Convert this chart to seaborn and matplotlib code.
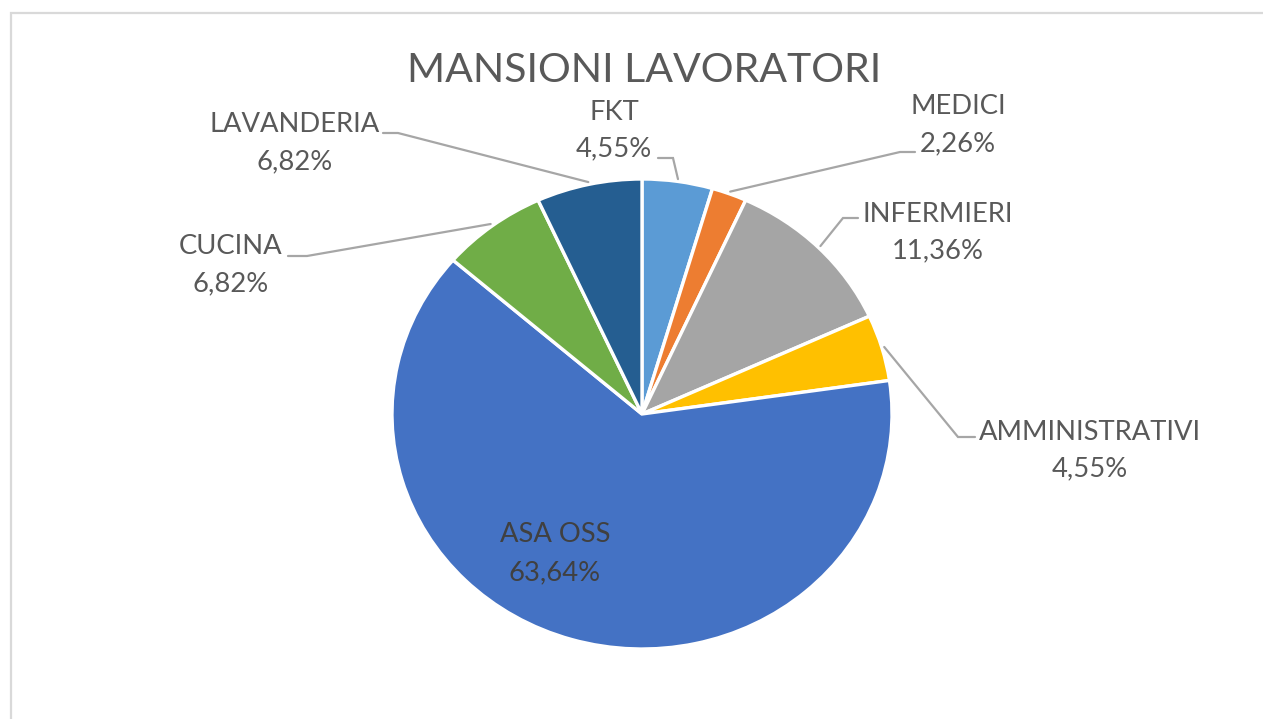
import numpy as np
import matplotlib
matplotlib.use("Agg")
import matplotlib.pyplot as plt
import seaborn as sns
from matplotlib.patches import Rectangle

# data
categories = ["FKT", "MEDICI", "INFERMIERI", "AMMINISTRATIVI", "ASA OSS", "CUCINA", "LAVANDERIA"]
shares = [4.55, 2.26, 11.36, 4.55, 63.64, 6.82, 6.82]
pct_labels = ["4,55%", "2,26%", "11,36%", "4,55%", "63,64%", "6,82%", "6,82%"]
colors = ["#5B9BD5", "#ED7D31", "#A5A5A5", "#FFC000", "#4472C4", "#70AD47", "#255E91"]

# layout (pixels, measured from top-left of the picture)
W, H = 1263, 719
CX, CY, RX, RY = 642, 414, 250, 235
label_xy = {
    "FKT": (614, 112, 149),
    "MEDICI": (958, 106, 144),
    "INFERMIERI": (938, 215, 251),
    "AMMINISTRATIVI": (1090, 433, 469),
    "ASA OSS": (555, 535, 573),
    "CUCINA": (231, 247, 284),
    "LAVANDERIA": (295, 125, 162),
}
# (text end, elbow) of each leader line
leader_xy = {
    "FKT": ((658, 158), (673, 158)),
    "MEDICI": ((915, 152), (900, 152)),
    "INFERMIERI": ((858, 218), (843, 218)),
    "AMMINISTRATIVI": ((975, 437), (958, 437)),
    "CUCINA": ((288, 256), (307, 256)),
    "LAVANDERIA": ((383, 133), (398, 133)),
}


def px(x, y):
    return (x - CX) / RX, (CY - y) / RY


def main():
    sns.set_theme(style="white")
    plt.rcParams["font.family"] = ["Lato", "DejaVu Sans"]
    palette = sns.color_palette(colors)

    fig = plt.figure(figsize=(W / 100, H / 100), dpi=100)
    fig.patch.set_facecolor("white")
    fig.patches.append(Rectangle((11 / W, -0.1), 1.2, (H - 13) / H + 0.1,
                                 transform=fig.transFigure, fill=False,
                                 edgecolor="#D9D9D9", linewidth=1.6, zorder=0))

    ax = fig.add_axes([0, 0, 1, 1])
    wedges, _ = ax.pie(shares, colors=palette, startangle=90, counterclock=False,
                       radius=1, wedgeprops=dict(edgecolor="white", linewidth=2.4))
    ax.set_aspect("auto")
    ax.set_xlim(-CX / RX, (W - CX) / RX)
    ax.set_ylim(-(H - CY) / RY, CY / RY)
    ax.axis("off")

    txt = "#595959"
    for cat, pct, w in zip(categories, pct_labels, wedges):
        x, y1, y2 = label_xy[cat]
        c = "#404040" if cat == "ASA OSS" else txt
        ax.text(*px(x, y1), cat, ha="center", va="center", fontsize=19.7, color=c)
        ax.text(*px(x, y2), pct, ha="center", va="center", fontsize=19.7, color=c)
        if cat in leader_xy:
            mid = np.deg2rad((w.theta1 + w.theta2) / 2)
            end = (np.cos(mid) * 1.01, np.sin(mid) * 1.01)
            a, b = leader_xy[cat]
            xs = [px(*a)[0], px(*b)[0], end[0]]
            ys = [px(*a)[1], px(*b)[1], end[1]]
            ax.plot(xs, ys, color="#A6A6A6", linewidth=1.6, solid_joinstyle="miter")

    ax.text(*px(644, 70), "MANSIONI LAVORATORI", ha="center", va="center",
            fontsize=29.5, color=txt)

    fig.savefig("out.png", dpi=100)


if __name__ == "__main__":
    main()
